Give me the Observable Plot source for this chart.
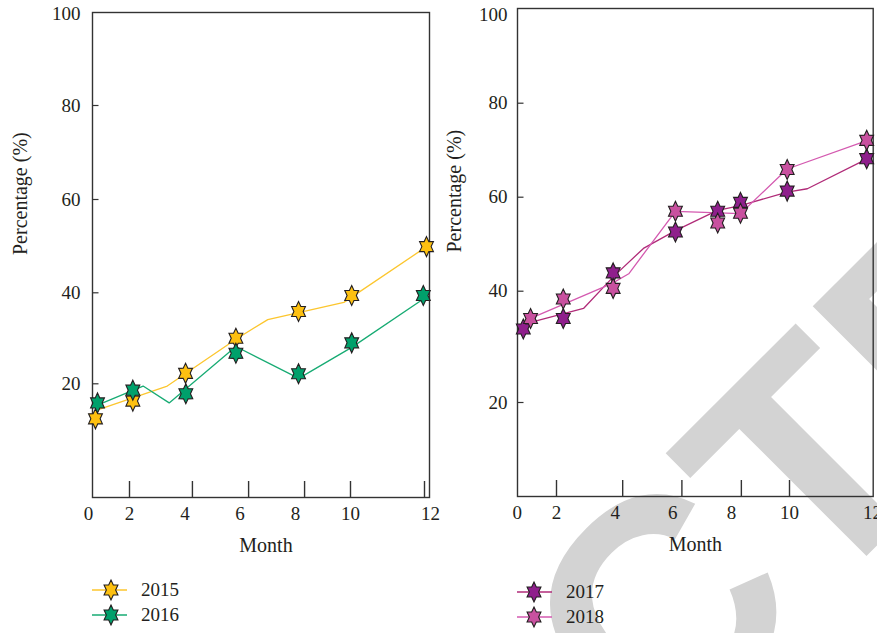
<!DOCTYPE html>
<html>
<head>
<meta charset="utf-8">
<script src="https://cdn.jsdelivr.net/npm/d3@7"></script>
<script src="https://cdn.jsdelivr.net/npm/@observablehq/plot@0.6"></script>
<style>
  html, body { margin: 0; padding: 0; background: #fff; overflow: hidden; }
  #page { position: relative; width: 877px; height: 633px; font-family: "Liberation Serif", "DejaVu Serif", serif; color: #231f20; }
  .stamp { position: absolute; left: 0; top: 0; pointer-events: none; z-index: 0; }
  .panel { position: absolute; top: 0; z-index: 1; }
  .legend-row { position: absolute; display: flex; align-items: center; height: 24px; font-size: 19px; line-height: 24px; z-index: 2; }
  .legend-row svg { display: block; }
</style>
</head>
<body>
<div id="page"></div>
<script>
// ---- Month / percentage readings ----------------------------------------
const monthTicks = [0, 2, 4, 6, 8, 10, 12];
const percentTicks = [20, 40, 60, 80, 100];
const percentTickMarks = [20, 40, 60, 80];

// 2015 and 2016 (left panel): observed points and fitted lines
const months2015 = [0.34, 2.12, 4.02, 5.85, 8.11, 10.03, 11.9];
const values2015 = [12.3, 16.2, 22.3, 30.0, 35.9, 39.4, 49.9];
const fitMonths2015 = [0.34, 3.36, 5.85, 7.0, 9.76, 11.92];
const fitValues2015 = [14.1, 19.5, 29.8, 34.1, 37.9, 50.0];

const months2016 = [0.44, 2.12, 4.03, 5.85, 8.11, 10.03, 11.82];
const values2016 = [15.8, 18.6, 17.8, 26.7, 22.2, 29.0, 39.4];
const fitMonths2016 = [0.32, 2.49, 3.43, 5.85, 8.12, 10.03, 11.83];
const fitValues2016 = [15.1, 19.5, 15.8, 28.2, 21.2, 28.0, 38.7];

const leftTickMarks = [2.0, 4.27, 6.31, 8.33, 10.0, 11.85];

// 2017 and 2018 (right panel)
const months2017 = [0.31, 2.23, 3.93, 6.09, 7.53, 8.31, 9.92, 11.86];
const values2017 = [33.2, 35.1, 43.9, 52.6, 57.0, 58.9, 61.3, 68.2];
const fitMonths2017 = [0.34, 2.92, 3.94, 4.98, 6.09, 7.52, 8.31, 9.92, 10.43, 11.88];
const fitValues2017 = [34.1, 36.9, 43.1, 49.1, 52.9, 57.2, 58.2, 61.1, 61.8, 68.2];

const months2018 = [0.68, 2.23, 3.93, 6.09, 7.53, 8.31, 9.92, 11.86];
const values2018 = [35.1, 38.6, 40.6, 57.0, 54.5, 56.6, 65.9, 72.1];
const fitMonths2018 = [0.68, 3.88, 4.47, 6.09, 8.31, 9.92, 11.88];
const fitValues2018 = [35.1, 41.6, 43.7, 57.0, 56.5, 66.0, 72.1];

const rightTickMarks = [2.0, 4.26, 6.31, 8.34, 10.0];

// ---- Styling ----------------------------------------------------------------
const INK = "#231f20";
const serif = "'Liberation Serif', 'DejaVu Serif', serif";

const series2015 = {name: "2015", months: months2015, values: values2015, fitMonths: fitMonths2015, fitValues: fitValues2015, fill: "#fdc010", line: "#fcc62e"};
const series2016 = {name: "2016", months: months2016, values: values2016, fitMonths: fitMonths2016, fitValues: fitValues2016, fill: "#00a06b", line: "#17ab73"};
const series2017 = {name: "2017", months: months2017, values: values2017, fitMonths: fitMonths2017, fitValues: fitValues2017, fill: "#8f1f8c", line: "#b02b78"};
const series2018 = {name: "2018", months: months2018, values: values2018, fitMonths: fitMonths2018, fitValues: fitValues2018, fill: "#c8519f", line: "#d45ab0"};

// Six-pointed star, a little taller than it is wide
const hexagram = {
  draw(context, size) {
    const r = Math.sqrt(size / Math.PI);
    for (let k = 0; k < 12; ++k) {
      const a = (k * Math.PI) / 6;
      const d = k % 2 ? r * 0.58 : r;
      const x = d * Math.sin(a) * 0.8, y = -d * Math.cos(a);
      if (k) context.lineTo(x, y); else context.moveTo(x, y);
    }
    context.closePath();
  }
};
const STAR_R = 10;

const rows = (xs, ys) => xs.map((month, i) => ({month, value: ys[i]}));

function drawPanel(o) {
  const frameH = o.height - o.marginTop - o.marginBottom;
  const frameW = o.width - o.marginLeft - o.marginRight;
  const marks = [
    Plot.frame({stroke: "#333", strokeWidth: 1.4}),
    // inward tick marks on both axes
    Plot.tickY(percentTickMarks, {y: d => d, insetRight: frameW - 6.5, stroke: "#333", strokeWidth: 1.2}),
    Plot.tickX(o.tickMarks, {x: d => d, insetTop: frameH - 16, stroke: "#333", strokeWidth: 1.4}),
    Plot.axisX({ticks: monthTicks, tickSize: 0, tickPadding: 9, tickFormat: d => String(d), label: null}),
    Plot.axisY({ticks: percentTicks, tickSize: 0, tickPadding: o.yPadding, tickFormat: d => String(d), label: null}),
    Plot.text(["Month"], {frameAnchor: "bottom", dy: 54, dx: o.monthDx, fontSize: 20, fill: INK}),
    Plot.text(["Percentage (%)"], {frameAnchor: "left", rotate: -90, dx: o.labelDx, fontSize: 20, fill: INK})
  ];
  for (const s of o.series) {
    marks.push(Plot.line(rows(s.fitMonths, s.fitValues), {x: "month", y: "value", stroke: s.line, strokeWidth: 1.3}));
  }
  for (const s of o.series) {
    marks.push(Plot.dot(rows(s.months, s.values), {
      x: "month", y: "value", symbol: hexagram, r: STAR_R,
      fill: s.fill, stroke: INK, strokeWidth: 1.1
    }));
  }
  return Plot.plot({
    width: o.width, height: o.height,
    marginLeft: o.marginLeft, marginRight: o.marginRight,
    marginTop: o.marginTop, marginBottom: o.marginBottom,
    x: {type: "linear", domain: monthTicks, range: o.xRange},
    y: {type: "linear", domain: percentTicks, range: o.yRange},
    style: {fontFamily: serif, fontSize: "19px", color: INK, background: "none", overflow: "visible"},
    marks
  });
}

const page = document.getElementById("page");

// Diagonal "RETRACTED" stamp behind the figure
const stamp = d3.select(page).append("svg")
  .attr("class", "stamp").attr("width", 877).attr("height", 633);
const stampText = stamp.append("text")
  .text("RETRACTED")
  .attr("font-family", "'Liberation Sans', Arial, sans-serif")
  .attr("font-weight", 700)
  .attr("font-size", 312)
  .attr("fill", "#d3d3d3");
const lead = stampText.node().getSubStringLength(0, 6);
stampText.attr("x", -lead).attr("transform", "translate(815,607.6) rotate(-45)");

const left = drawPanel({
  width: 440, height: 560, marginLeft: 92, marginRight: 11, marginTop: 12, marginBottom: 63,
  xRange: [88, 129, 184.5, 239.5, 295, 350, 430],
  yRange: [383.3, 292.3, 199, 105, 13],
  tickMarks: leftTickMarks, yPadding: 12, monthDx: 5, labelDx: -72,
  series: [series2015, series2016]
});
left.classList.add("panel");
left.style.left = "0px";
page.appendChild(left);

const right = drawPanel({
  width: 437, height: 560, marginLeft: 77, marginRight: 4.3, marginTop: 8, marginBottom: 64,
  xRange: [76.7, 116, 174.7, 232.3, 291, 349, 432],
  yRange: [402, 290.7, 196.7, 102.7, 14],
  tickMarks: rightTickMarks, yPadding: 10, monthDx: 0, labelDx: -63,
  series: [series2017, series2018]
});
right.classList.add("panel");
right.style.left = "440px";
page.appendChild(right);

// Legends: a short line with the star marker, then the year
function starPath() {
  const p = d3.path();
  hexagram.draw(p, STAR_R * STAR_R * Math.PI);
  return p.toString();
}
function legendRow(s, x, yCenter, lineLen, starAt, textAt) {
  const row = d3.select(page).append("div").attr("class", "legend-row")
    .style("left", x + "px").style("top", (yCenter - 12) + "px");
  const svg = row.append("svg").attr("width", textAt).attr("height", 24);
  svg.append("line").attr("x1", 0).attr("x2", lineLen).attr("y1", 12).attr("y2", 12)
    .attr("stroke", s.line).attr("stroke-width", 1.6);
  svg.append("path").attr("d", starPath()).attr("transform", `translate(${starAt},12)`)
    .attr("fill", s.fill).attr("stroke", INK).attr("stroke-width", 1.1);
  row.append("span").text(s.name);
}
legendRow(series2015, 92, 589.5, 35, 19, 49);
legendRow(series2016, 92, 614.5, 35, 19, 49);
legendRow(series2017, 517, 591.5, 35, 17, 49);
legendRow(series2018, 517, 617, 35, 17, 49);
</script>
</body>
</html>
